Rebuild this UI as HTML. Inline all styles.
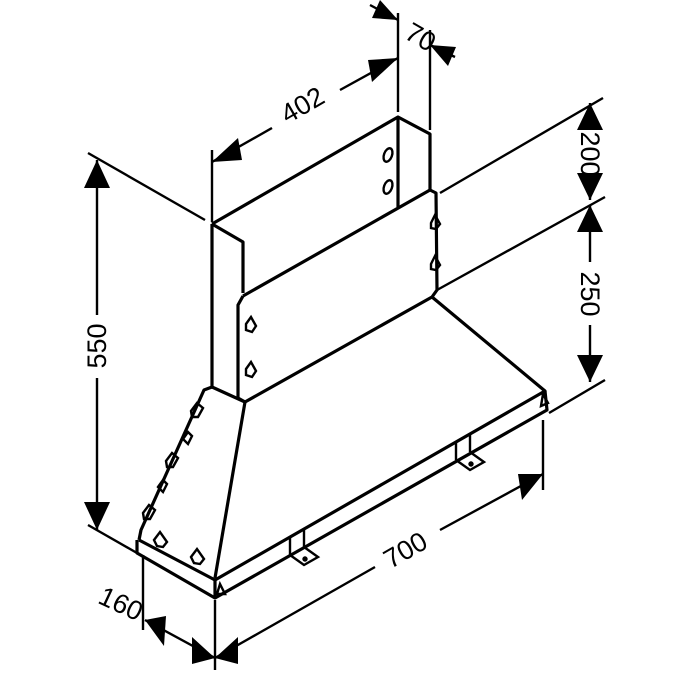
<!DOCTYPE html>
<html><head><meta charset="utf-8"><style>html,body{margin:0;background:#fff}svg{display:block}text{font-family:"Liberation Sans",sans-serif;font-size:27px;fill:#000}</style></head><body>
<svg width="675" height="675" viewBox="0 0 675 675" xmlns="http://www.w3.org/2000/svg">
<g fill="none" stroke="#000" stroke-width="3.2" stroke-linejoin="round">
<path d="M212,224 L398,117 L430,134 L430,190"/>
<path d="M212,224 L243,242 L243,293"/>
<path d="M398,117 L398,207"/>
<path d="M212,224 L212,387 L245,402"/>
<path d="M243,296 L430,190 L436,193 L437,290 L432,297 L245,402"/>
<path d="M243,296 L238,305 L238,398 L245,402"/>
<path d="M245,402 L215,578"/>
<path d="M212,387 L204,390 L141,530 L139,540"/>
<path d="M139,540 L215,580 L545,391 L432,297"/>
<path d="M137,540 L137,553 L215,598 L547,410 L545,391"/>
<path d="M215,580 L215,598"/>
</g>
<g fill="none" stroke="#000" stroke-width="2.4">
<ellipse cx="388" cy="155" rx="4" ry="7" transform="rotate(20 388 155)"/>
<ellipse cx="388" cy="187" rx="4" ry="7" transform="rotate(20 388 187)"/>
<path d="M246,324 l5,-7 l5,9 l-4,6 l-6,-2z"/><path d="M246,369 l5,-7 l5,9 l-4,6 l-6,-2z"/>
<path d="M431,223 l4,-8 l5,9 l-4,5 l-5,-1z"/><path d="M431,264 l4,-8 l5,9 l-4,5 l-5,-1z"/>
<path d="M191,411 l6,-8 l6,5 l-5,9 l-6,0z"/><path d="M183,439 l5,-7 l4,4 l-4,8z"/>
<path d="M166,461 l6,-8 l6,5 l-5,9 l-6,0z"/><path d="M158,487 l5,-7 l4,4 l-4,8z"/>
<path d="M143,513 l6,-8 l6,5 l-5,9 l-6,0z"/>
<path d="M154,540 l6,-8 l7,10 l-4,5 l-6,-1z"/><path d="M191,557 l6,-8 l7,10 l-4,5 l-6,-1z"/>
<path d="M217,594 l3,-10 l5,10z"/><path d="M541,406 l2,-12 l5,9z"/>
<path d="M290,555 l0,-18 l14,-8 l0,18"/><path d="M290,555 l14,10 l14,-8 l-14,-10"/><circle cx="305" cy="559" r="1.5" fill="#000"/>
<path d="M456,460 l0,-18 l14,-8 l0,18"/><path d="M456,460 l14,10 l14,-8 l-14,-10"/><circle cx="471" cy="464" r="1.5" fill="#000"/>
</g>
<g stroke="#000" stroke-width="2.4" fill="none">
<path d="M398,13 L398,112"/><path d="M430,30 L430,130"/>
<path d="M212,150 L212,222"/>
<path d="M212,162 L272,128"/><path d="M340,90 L398,58"/>
<path d="M88,153 L205,220"/><path d="M88,525 L137,553"/>
<path d="M97,160 L97,315"/><path d="M97,378 L97,530"/>
<path d="M440,193 L603,98"/><path d="M437,290 L605,197"/><path d="M549,413 L605,380"/>
<path d="M590,103 L590,125"/><path d="M590,185 L590,200"/>
<path d="M590,205 L590,262"/><path d="M590,325 L590,382"/>
<path d="M143,555 L143,630"/><path d="M215,600 L215,670"/><path d="M543,420 L543,490"/>
<path d="M145,620 L215,658"/>
<path d="M215,658 L375,567"/><path d="M440,530 L543,474"/>
<path d="M370,5 L398,20"/><path d="M430,45 L455,57"/>
</g>
<g fill="#000">
<polygon points="212,162 238,138 242,160"/>
<polygon points="398,58 372,82 368,60"/>
<polygon points="97,160 84,188 110,188"/>
<polygon points="97,530 84,502 110,502"/>
<polygon points="590,103 577,130 603,130"/>
<polygon points="590,200 577,173 603,173"/>
<polygon points="590,205 577,232 603,232"/>
<polygon points="590,382 577,355 603,355"/>
<polygon points="398,20 372,18 380,0"/>
<polygon points="430,45 456,47 448,66"/>
<polygon points="145,620 166,616 164,646"/>
<polygon points="215,658 192,637 192,664"/>
<polygon points="215,658 238,637 238,664"/>
<polygon points="543,474 518,474 522,500"/>
</g>
<text transform="translate(307,113) rotate(-30)" text-anchor="middle">402</text>
<text transform="translate(416,45) rotate(30)" text-anchor="middle">70</text>
<text transform="translate(106,346) rotate(-90)" text-anchor="middle">550</text>
<text transform="translate(581,154) rotate(90)" text-anchor="middle">200</text>
<text transform="translate(581,294) rotate(90)" text-anchor="middle">250</text>
<text transform="translate(410,558) rotate(-30)" text-anchor="middle">700</text>
<text transform="translate(117,612) rotate(25)" text-anchor="middle">160</text>
</svg>
</body></html>
